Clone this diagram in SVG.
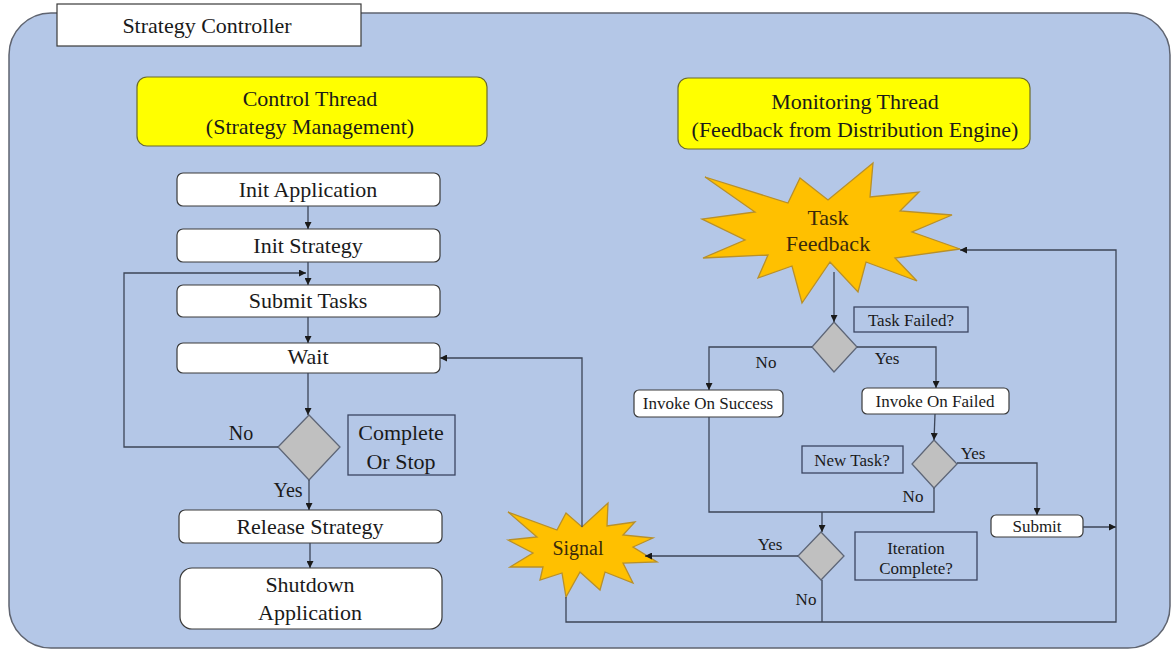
<svg xmlns="http://www.w3.org/2000/svg" width="1172" height="650" viewBox="0 0 1172 650">
<style>
text{font-family:'Liberation Serif','Times New Roman','DejaVu Serif',Times,serif;fill:#1a1a1a;text-anchor:middle;dominant-baseline:central}
.big{font-size:22px}
.mid{font-size:20px}
.sm{font-size:17px}
.box{fill:#fff;stroke:#3a3a3a;stroke-width:1.2}
.hdr{fill:#ffff00;stroke:#6b6b2a;stroke-width:1.2}
.lbl{fill:none;stroke:#3b4662;stroke-width:1.3}
.dia{fill:#c0c0c0;stroke:#5e6677;stroke-width:1.3}
.star{fill:#ffc000;stroke:#b8902a;stroke-width:1.3}
.ln{fill:none;stroke:#3c4557;stroke-width:1.3}
.st{fill:#3a2a0a}
</style>
<defs>
<marker id="ah" viewBox="0 0 10 10" refX="10" refY="5" markerWidth="7" markerHeight="7" markerUnits="userSpaceOnUse" orient="auto">
<path d="M0,0 L10,5 L0,10 z" fill="#1a1a1a"/>
</marker>
</defs>
<g font-family="Liberation Serif, serif">
<g id="container">
<rect x="9" y="13" width="1161" height="635" rx="42" fill="#b4c7e7" stroke="#5f6470" stroke-width="1.5"/>
</g>
<g id="title">
<rect x="57" y="4" width="304" height="42" fill="#fff" stroke="#3a3a3a" stroke-width="1.2"/>
<text class="big" x="207" y="25">Strategy Controller</text>
</g>
<g id="control-thread">
<rect class="hdr" x="137" y="77" width="350" height="69" rx="10"/>
<text class="big" x="310" y="98">Control Thread</text>
<text class="big" x="310" y="126">(Strategy Management)</text>
</g>
<g id="monitoring-thread">
<rect class="hdr" x="678" y="78" width="352" height="71" rx="10"/>
<text class="big" x="855" y="101">Monitoring Thread</text>
<text class="big" x="855" y="129">(Feedback from Distribution Engine)</text>
</g>
<g id="init-application">
<rect class="box" x="177" y="173" width="263" height="33" rx="6"/>
<text class="big" x="308" y="189">Init Application</text>
</g>
<g id="init-strategy">
<rect class="box" x="177" y="229" width="263" height="33" rx="6"/>
<text class="big" x="308" y="245">Init Strategy</text>
</g>
<g id="submit-tasks">
<rect class="box" x="177" y="285" width="263" height="32" rx="6"/>
<text class="big" x="308" y="300">Submit Tasks</text>
</g>
<g id="wait">
<rect class="box" x="177" y="343" width="263" height="30" rx="6"/>
<text class="big" x="308" y="356">Wait</text>
</g>
<g id="complete-or-stop">
<polygon class="dia" points="309,415 340,447 309,480 278,447"/>
</g>
<g id="complete-or-stop-label">
<rect class="lbl" x="348" y="415" width="107" height="60"/>
<text class="big" x="401" y="432">Complete</text>
<text class="big" x="401" y="461">Or Stop</text>
</g>
<g id="release-strategy">
<rect class="box" x="179" y="510" width="263" height="33" rx="6"/>
<text class="big" x="310" y="526">Release Strategy</text>
</g>
<g id="shutdown-application">
<rect class="box" x="180" y="568" width="262" height="61" rx="12"/>
<text class="big" x="310" y="584">Shutdown</text>
<text class="big" x="310" y="612">Application</text>
</g>
<g id="task-feedback">
<polygon class="star" points="873,163 870,197 919,192 900,211 952,215 912,232 960,249 895,258 917,281 866,262 858,292 830,262 802,303 792,266 758,278 768,255 703,258 745,240 702,219 755,212 705,177 788,203 800,178 828,200"/>
<text class="big st" x="828" y="217">Task</text>
<text class="big st" x="828" y="243">Feedback</text>
</g>
<g id="task-failed">
<polygon class="dia" points="834,322 857,347 834,372 812,347"/>
</g>
<g id="task-failed-label">
<rect class="lbl" x="854" y="307" width="114" height="25"/>
<text class="sm" x="911" y="320">Task Failed?</text>
</g>
<g id="invoke-on-success">
<rect class="box" x="634" y="390" width="149" height="27" rx="5"/>
<text class="sm" x="708" y="403">Invoke On Success</text>
</g>
<g id="invoke-on-failed">
<rect class="box" x="862" y="388" width="147" height="26" rx="5"/>
<text class="sm" x="935" y="401">Invoke On Failed</text>
</g>
<g id="new-task">
<polygon class="dia" points="934,440 957,464 934,488 912,464"/>
</g>
<g id="new-task-label">
<rect class="lbl" x="802" y="446" width="101" height="27"/>
<text class="sm" x="852" y="460">New Task?</text>
</g>
<g id="submit">
<rect class="box" x="991" y="515" width="92" height="22" rx="5"/>
<text class="sm" x="1037" y="526">Submit</text>
</g>
<g id="iteration-complete">
<polygon class="dia" points="821,532 844,556 821,580 798,556"/>
</g>
<g id="iteration-complete-label">
<rect class="lbl" x="855" y="532" width="122" height="48"/>
<text class="sm" x="916" y="548">Iteration</text>
<text class="sm" x="916" y="568">Complete?</text>
</g>
<g id="signal">
<polygon class="star" points="508,512 557,530 566,513 582,527 608,503 607,526 635,522 623,535 653,538 633,547 657,562 623,563 633,583 605,572 600,590 580,572 566,597 562,573 540,580 543,567 510,567 533,553 508,540 537,537"/>
<text class="mid st" x="578" y="548">Signal</text>
</g>
<g id="connectors">
<line class="ln" x1="308" y1="206" x2="308" y2="229" marker-end="url(#ah)"/>
<line class="ln" x1="308" y1="262" x2="308" y2="285" marker-end="url(#ah)"/>
<line class="ln" x1="308" y1="317" x2="308" y2="343" marker-end="url(#ah)"/>
<line class="ln" x1="308" y1="373" x2="308" y2="415" marker-end="url(#ah)"/>
<polyline class="ln" points="278,447 124,447 124,273 306,273" marker-end="url(#ah)"/>
<line class="ln" x1="309" y1="480" x2="309" y2="510" marker-end="url(#ah)"/>
<line class="ln" x1="310" y1="543" x2="310" y2="568" marker-end="url(#ah)"/>
<polyline class="ln" points="582,527 582,358 440,358" marker-end="url(#ah)"/>
<line class="ln" x1="834" y1="272" x2="834" y2="322" marker-end="url(#ah)"/>
<polyline class="ln" points="812,347 709,347 709,390" marker-end="url(#ah)"/>
<polyline class="ln" points="857,347 936,347 936,388" marker-end="url(#ah)"/>
<line class="ln" x1="935" y1="414" x2="934" y2="440" marker-end="url(#ah)"/>
<polyline class="ln" points="957,463 1037,463 1037,515" marker-end="url(#ah)"/>
<line class="ln" x1="1083" y1="527" x2="1116" y2="527" marker-end="url(#ah)"/>
<polyline class="ln" points="709,417 709,512 934,512 934,488"/>
<line class="ln" x1="822" y1="512" x2="822" y2="532" marker-end="url(#ah)"/>
<line class="ln" x1="798" y1="556" x2="645" y2="556" marker-end="url(#ah)"/>
<polyline class="ln" points="566,597 566,622 1116,622 1116,250 960,250" marker-end="url(#ah)"/>
<line class="ln" x1="822" y1="580" x2="822" y2="622"/>
</g>
<g id="edge-labels">
<text class="mid" x="241" y="433">No</text>
<text class="mid" x="288" y="490">Yes</text>
<text class="sm" x="766" y="362">No</text>
<text class="sm" x="887" y="358">Yes</text>
<text class="sm" x="973" y="453">Yes</text>
<text class="sm" x="913" y="496">No</text>
<text class="sm" x="770" y="544">Yes</text>
<text class="sm" x="806" y="599">No</text>
</g>
</g>
</svg>
